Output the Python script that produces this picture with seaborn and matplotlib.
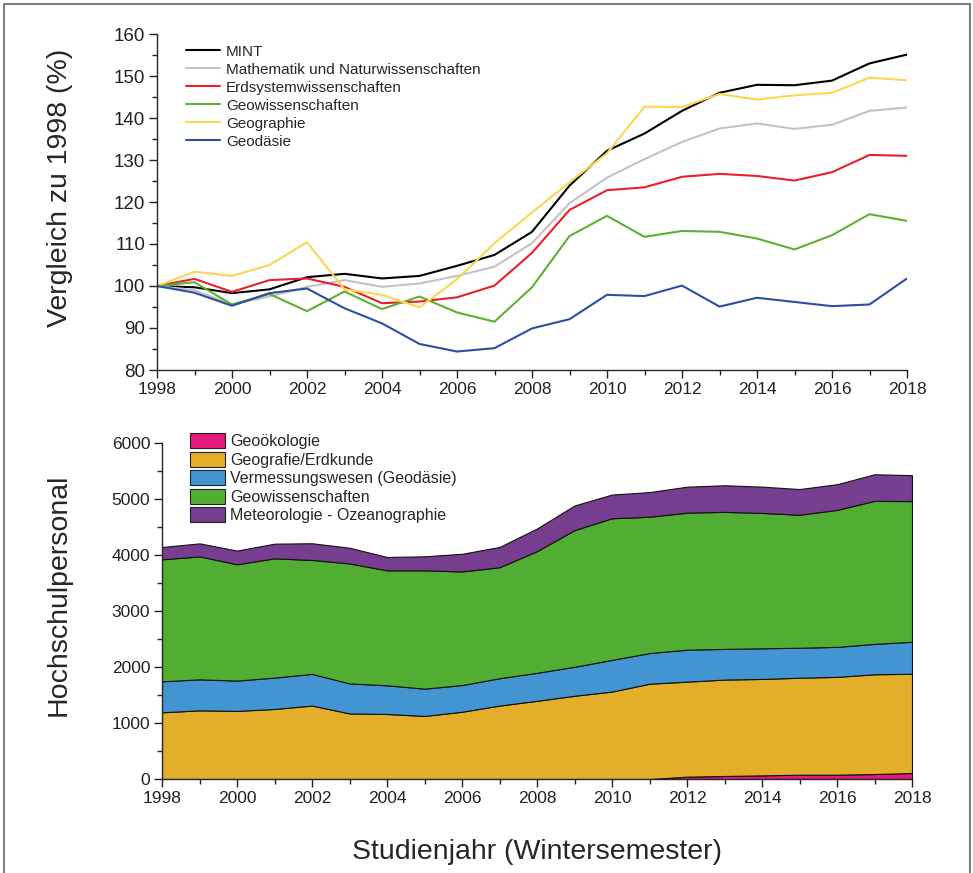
import numpy as np
import pandas as pd
import matplotlib
matplotlib.use("Agg")
import matplotlib.pyplot as plt
from matplotlib.patches import Rectangle
from matplotlib.lines import Line2D
from matplotlib.ticker import MultipleLocator
import seaborn as sns

years = list(range(1998, 2019))

# --- top chart: index relative to 1998 (%) ---
mint = [100, 99.7, 98.3, 99.2, 102.1, 102.9, 101.8, 102.4, 104.8, 107.4, 112.9,
        123.9, 132.2, 136.3, 141.7, 146.0, 147.9, 147.8, 148.9, 153.0, 155.1]
math_nat = [100, 99.0, 95.6, 97.5, 99.8, 101.4, 99.8, 100.6, 102.4, 104.6, 110.2,
            119.7, 125.8, 130.2, 134.3, 137.5, 138.7, 137.4, 138.4, 141.7, 142.5]
erdsystem = [100, 101.7, 98.6, 101.4, 101.8, 99.8, 95.9, 96.3, 97.3, 100.1, 107.9,
             118.1, 122.8, 123.5, 126.0, 126.7, 126.2, 125.1, 127.1, 131.2, 131.0]
geowiss = [100, 100.9, 95.6, 98.1, 94.0, 98.7, 94.5, 97.5, 93.7, 91.5, 99.7,
           111.9, 116.7, 111.7, 113.1, 112.9, 111.3, 108.7, 112.1, 117.1, 115.5]
geographie = [100, 103.4, 102.4, 105.0, 110.4, 99.2, 97.9, 94.9, 101.6, 110.2, 117.5,
              124.7, 131.6, 142.7, 142.6, 145.7, 144.4, 145.4, 146.0, 149.6, 149.0]
geodaesie = [100, 98.4, 95.3, 98.3, 99.4, 94.7, 91.1, 86.2, 84.4, 85.2, 89.9,
             92.1, 97.9, 97.6, 100.1, 95.1, 97.2, 96.2, 95.2, 95.6, 101.8]
line_names = ["MINT", "Mathematik und Naturwissenschaften", "Erdsystemwissenschaften",
              "Geowissenschaften", "Geographie", "Geodäsie"]
line_colors = ["#000000", "#C3C3C3", "#E8202A", "#5DB131", "#FDD651", "#2C4FA1"]

# --- bottom chart: university staff (stacked) ---
geooekologie = [0, 0, 0, 0, 0, 0, 0, 0, 0, 0, 0, 0, 0, 0, 42, 54, 65, 77, 77, 89, 107]
geografie_erdkunde = [1190, 1225, 1215, 1250, 1310, 1170, 1160, 1125, 1200, 1310, 1395,
                      1485, 1560, 1700, 1695, 1720, 1720, 1730, 1745, 1780, 1770]
vermessung = [553, 553, 541, 559, 565, 536, 512, 487, 476, 488, 500,
              517, 565, 547, 570, 547, 547, 535, 535, 542, 571]
geowissenschaften = [2176, 2194, 2075, 2128, 2033, 2140, 2051, 2111, 2027, 1980, 2170,
                     2438, 2527, 2432, 2445, 2445, 2415, 2373, 2444, 2551, 2510]
meteo_ozean = [220, 232, 244, 262, 298, 280, 238, 250, 315, 362, 404,
               440, 423, 440, 463, 475, 469, 458, 458, 475, 463]
area_names = ["Geoökologie", "Geografie/Erdkunde", "Vermessungswesen (Geodäsie)",
              "Geowissenschaften", "Meteorologie - Ozeanographie"]
area_colors = ["#E5197E", "#E3AF2B", "#4395D1", "#52AE33", "#773D8E"]

sns.set_theme(style="ticks")
plt.rcParams["font.family"] = ["Liberation Sans", "DejaVu Sans"]
plt.rcParams["axes.linewidth"] = 1.0

fig = plt.figure(figsize=(9.73, 8.73), dpi=100)

# ---------------- top axes ----------------
ax1 = fig.add_axes([157 / 973, 1 - 370 / 873, 750 / 973, 336 / 873])
df_lines = pd.DataFrame({"Jahr": years * 6,
                         "Wert": mint + math_nat + erdsystem + geowiss + geographie + geodaesie,
                         "Reihe": sum([[n] * len(years) for n in line_names], [])})
sns.lineplot(data=df_lines, x="Jahr", y="Wert", hue="Reihe", hue_order=line_names,
             palette=line_colors, linewidth=1.5, ax=ax1, legend=False)
ax1.set_xlim(1998, 2018)
ax1.set_ylim(80, 160)
ax1.xaxis.set_major_locator(MultipleLocator(2))
ax1.xaxis.set_minor_locator(MultipleLocator(1))
ax1.yaxis.set_major_locator(MultipleLocator(10))
ax1.yaxis.set_minor_locator(MultipleLocator(5))
ax1.set_xlabel("")
ax1.set_ylabel("Vergleich zu 1998 (%)", fontsize=20.5)
ax1.yaxis.set_label_coords(-0.112, 0.542)
sns.despine(ax=ax1)
ax1.tick_params(axis="both", which="major", direction="out", length=6, width=1.0,
                labelsize=12.5, pad=2.5, colors="#222222")
ax1.tick_params(axis="both", which="minor", direction="out", length=3.5, width=1.0,
                colors="#222222")
ax1.tick_params(axis="y", labelsize=13.5)
handles1 = [Line2D([0], [0], color=c, lw=1.5) for c in line_colors]
ax1.legend(handles1, line_names, loc="upper left", bbox_to_anchor=(0.025, 1.0),
           frameon=False, fontsize=11, handlelength=2.2, handletextpad=0.4,
           labelspacing=0.26, borderaxespad=0.3)

# ---------------- bottom axes ----------------
ax2 = fig.add_axes([162 / 973, 1 - 779 / 873, 750 / 973, 336.3 / 873])
df_area = pd.DataFrame({"Jahr": years, area_names[0]: geooekologie,
                        area_names[1]: geografie_erdkunde, area_names[2]: vermessung,
                        area_names[3]: geowissenschaften, area_names[4]: meteo_ozean})
ax2.stackplot(df_area["Jahr"], *[df_area[n] for n in area_names], colors=area_colors,
              labels=area_names, edgecolor="#111111", linewidth=0.8)
ax2.set_xlim(1998, 2018)
ax2.set_ylim(0, 6000)
ax2.xaxis.set_major_locator(MultipleLocator(2))
ax2.xaxis.set_minor_locator(MultipleLocator(1))
ax2.yaxis.set_major_locator(MultipleLocator(1000))
ax2.yaxis.set_minor_locator(MultipleLocator(500))
ax2.set_xlabel("Studienjahr (Wintersemester)", fontsize=20.5, labelpad=24)
ax2.set_ylabel("Hochschulpersonal", fontsize=20.5)
ax2.yaxis.set_label_coords(-0.12, 0.549)
sns.despine(ax=ax2)
ax2.tick_params(axis="both", which="major", direction="out", length=6, width=1.0,
                labelsize=12.5, pad=2.5, colors="#222222")
ax2.tick_params(axis="both", which="minor", direction="out", length=3.5, width=1.0,
                colors="#222222")
handles2 = [Rectangle((0, 0), 1, 1, facecolor=c, edgecolor="#222222", linewidth=0.8)
            for c in area_colors]
ax2.legend(handles2, area_names, loc="upper left", bbox_to_anchor=(0.025, 1.057),
           frameon=False, fontsize=11.5, handlelength=2.15, handleheight=1.05,
           handletextpad=0.35, labelspacing=0.17, borderaxespad=0.2)

# outer frame
fig.patches.append(Rectangle((4 / 973, -0.02), 966 / 973, 1 - 4 / 873 + 0.02,
                             transform=fig.transFigure, fill=False,
                             edgecolor="#808080", linewidth=1.5))

fig.savefig("out.png", dpi=100)
